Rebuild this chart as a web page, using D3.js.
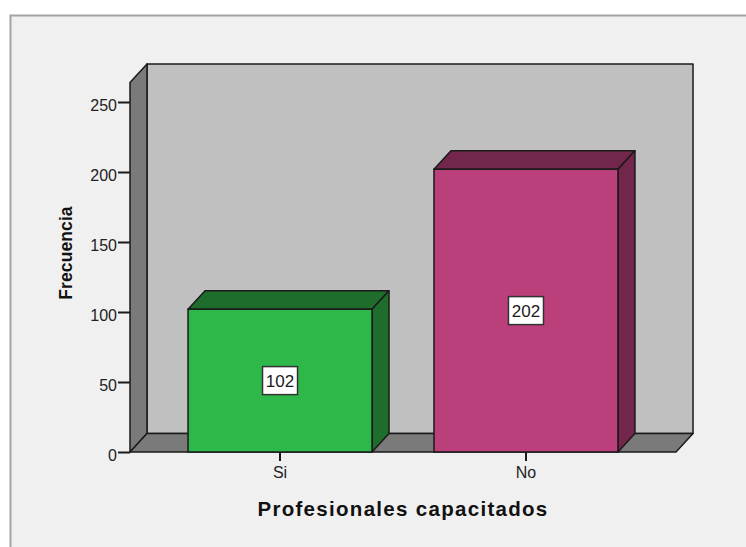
<!DOCTYPE html>
<html>
<head>
<meta charset="utf-8">
<script src="https://cdn.jsdelivr.net/npm/d3@7"></script>
<style>
  html, body { margin: 0; padding: 0; background: #ffffff; }
  svg { display: block; }
</style>
</head>
<body>
<svg id="chart" width="746" height="547"></svg>
<script>
// Frequency of trained professionals
const categories = ["Si", "No"];
const counts = [102, 202];
const yTicks = [0, 50, 100, 150, 200, 250];
const frontColors = ["#2eb84a", "#bb3f7b"];
const sideColors = ["#1f6d2d", "#72264c"];

const W = 746, H = 547;
const svg = d3.select("#chart");

// 3D depth offset of the chart box
const DX = 17, DY = 18.5;

const x = d3.scaleBand()
  .domain(categories)
  .range([130, 676])
  .paddingInner(0.252)
  .paddingOuter(0.236);

const y = d3.scaleLinear()
  .domain([0, 264])
  .range([452, 82.4]);

const edge = "#1a1a1a";
const font = "'Liberation Sans', Arial, sans-serif";

// outer frame
svg.append("rect")
  .attr("x", 10.5).attr("y", 15.5)
  .attr("width", W).attr("height", H)
  .attr("fill", "#f0f0f0")
  .attr("stroke", "#a3a3a3").attr("stroke-width", 2);

const x0 = x.range()[0], x1 = x.range()[1];
const yBase = y(0), yTop = y(y.domain()[1]);

const poly = pts => pts.map(p => p.join(",")).join(" ");

// back wall
svg.append("polygon")
  .attr("points", poly([[x0 + DX, yTop - DY], [x1 + DX, yTop - DY], [x1 + DX, yBase - DY], [x0 + DX, yBase - DY]]))
  .attr("fill", "#c0c0c0").attr("stroke", edge).attr("stroke-width", 1.5)
  .attr("stroke-linejoin", "round");

// left wall
svg.append("polygon")
  .attr("points", poly([[x0, yBase], [x0, yTop], [x0 + DX, yTop - DY], [x0 + DX, yBase - DY]]))
  .attr("fill", "#7a7a7a").attr("stroke", edge).attr("stroke-width", 1.5)
  .attr("stroke-linejoin", "round");

// floor
svg.append("polygon")
  .attr("points", poly([[x0, yBase], [x0 + DX, yBase - DY], [x1 + DX, yBase - DY], [x1, yBase]]))
  .attr("fill", "#7a7a7a").attr("stroke", edge).attr("stroke-width", 1.5)
  .attr("stroke-linejoin", "round");

// bars
const bars = svg.append("g").selectAll("g.bar")
  .data(categories.map((c, i) => ({ c, v: counts[i], i })))
  .join("g").attr("class", "bar");

bars.each(function (d) {
  const g = d3.select(this);
  const bx0 = x(d.c), bx1 = x(d.c) + x.bandwidth();
  const by = y(d.v), b0 = y(0);
  // top face
  g.append("polygon")
    .attr("points", poly([[bx0, by], [bx0 + DX, by - DY], [bx1 + DX, by - DY], [bx1, by]]))
    .attr("fill", sideColors[d.i]).attr("stroke", edge).attr("stroke-width", 1.5)
    .attr("stroke-linejoin", "round");
  // side face
  g.append("polygon")
    .attr("points", poly([[bx1, by], [bx1 + DX, by - DY], [bx1 + DX, b0 - DY], [bx1, b0]]))
    .attr("fill", sideColors[d.i]).attr("stroke", edge).attr("stroke-width", 1.5)
    .attr("stroke-linejoin", "round");
  // front face
  g.append("rect")
    .attr("x", bx0).attr("y", by)
    .attr("width", bx1 - bx0).attr("height", b0 - by)
    .attr("fill", frontColors[d.i]).attr("stroke", edge).attr("stroke-width", 1.5);

  // value label at mid-height
  const cx = (bx0 + bx1) / 2, cy = y(d.v / 2);
  g.append("rect")
    .attr("x", cx - 17.5).attr("y", cy - 14)
    .attr("width", 35).attr("height", 28)
    .attr("fill", "#ffffff").attr("stroke", "#333333").attr("stroke-width", 1.5);
  g.append("text")
    .attr("x", cx).attr("y", cy)
    .attr("dy", "0.36em")
    .attr("text-anchor", "middle")
    .attr("font-family", font).attr("font-size", 17)
    .attr("fill", "#1a1a1a")
    .text(d.v);
});

// y axis
const yAxis = d3.axisLeft(y).tickValues(yTicks).tickSize(12).tickPadding(1).tickFormat(d3.format("d"));
const gy = svg.append("g").attr("transform", `translate(${x0},0)`).call(yAxis);
gy.select(".domain").remove();
gy.selectAll(".tick line").attr("stroke", edge).attr("stroke-width", 2);
gy.selectAll(".tick text")
  .attr("font-family", font).attr("font-size", 16).attr("fill", "#222")
  .attr("dy", "0.55em");

// x axis
const xAxis = d3.axisBottom(x).tickSize(9).tickPadding(6);
const gx = svg.append("g").attr("transform", `translate(0,${yBase})`).call(xAxis);
gx.select(".domain").remove();
gx.selectAll(".tick line").attr("stroke", edge).attr("stroke-width", 2);
gx.selectAll(".tick text")
  .attr("font-family", font).attr("font-size", 16).attr("fill", "#222");

// axis titles
svg.append("text")
  .attr("x", 403).attr("y", 516)
  .attr("text-anchor", "middle")
  .attr("font-family", font).attr("font-size", 20.5).attr("font-weight", "bold")
  .attr("letter-spacing", 1.3)
  .attr("fill", "#111")
  .text("Profesionales capacitados");

svg.append("text")
  .attr("transform", "translate(72,253) rotate(-90)")
  .attr("text-anchor", "middle")
  .attr("font-family", font).attr("font-size", 17.5).attr("font-weight", "bold")
  .attr("letter-spacing", 0.1)
  .attr("fill", "#111")
  .text("Frecuencia");
</script>
</body>
</html>
